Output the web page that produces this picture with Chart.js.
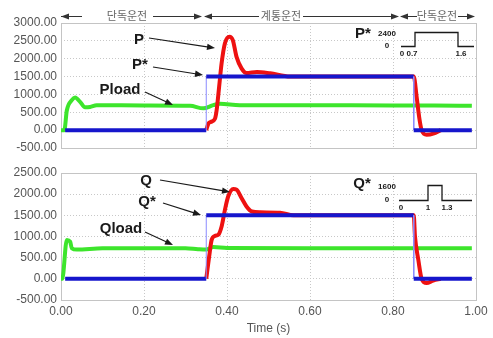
<!DOCTYPE html>
<html>
<head>
<meta charset="utf-8">
<script src="https://cdn.jsdelivr.net/npm/chart.js@4/dist/chart.umd.min.js"></script>
<style>
  body { margin: 0; background: #fff; }
  #wrap { position: relative; width: 493px; height: 338px; }
  canvas { position: absolute; left: 0; }
  #graficoP { top: 0; }
  #graficoQ { top: 160px; }
</style>
</head>
<body>
<div id="wrap">
  <canvas id="graficoP" width="493" height="160"></canvas>
  <canvas id="graficoQ" width="493" height="178"></canvas>
</div>
<script>
// Dados (tempo em s)
const xTicks = [0, 0.2, 0.4, 0.6, 0.8, 1.0];

const refTime = [0.01, 0.35, 0.35, 0.85, 0.85, 0.99];
const pRef = [0, 0, 1500, 1500, 0, 0];
const qRef = [0, 0, 1500, 1500, 0, 0];

const pTime = [0.35, 0.355, 0.361, 0.371, 0.375, 0.381, 0.387, 0.395, 0.406, 0.414, 0.423, 0.435, 0.447, 0.472, 0.504, 0.552, 0.85, 0.857, 0.863, 0.869, 0.881, 0.897, 0.915];
const pValue = [0, 180, 230, 320, 555, 1210, 1870, 2430, 2615, 2520, 2050, 1730, 1600, 1630, 1590, 1500, 1500, 930, 370, 0, -130, -100, 0];

const qTime = [0.35, 0.357, 0.363, 0.371, 0.379, 0.387, 0.395, 0.403, 0.415, 0.423, 0.435, 0.447, 0.46, 0.48, 0.528, 0.56, 0.85, 0.853, 0.861, 0.869, 0.881, 0.897, 0.915];
const qValue = [0, 525, 920, 1015, 1040, 1237, 1630, 1950, 2125, 2107, 1910, 1710, 1590, 1570, 1560, 1500, 1500, 1000, 450, 0, -100, -40, 0];

const pLoadTime = [0, 0.008, 0.014, 0.026, 0.034, 0.046, 0.058, 0.07, 0.086, 0.2, 0.311, 0.343, 0.367, 0.383, 0.431, 0.6, 0.8, 0.9, 0.99];
const pLoad = [0, 0, 550, 840, 915, 790, 640, 650, 700, 690, 680, 610, 700, 740, 700, 700, 690, 690, 680];

const qLoadTime = [0, 0.003, 0.014, 0.022, 0.026, 0.038, 0.1, 0.3, 0.33, 0.35, 0.367, 0.4, 0.6, 0.99];
const qLoad = [0, 0, 920, 880, 725, 690, 725, 725, 700, 690, 750, 730, 725, 725];

const pTicks = [-500, 3000];
const qTicks = [-500, 2500];

function pontos(xs, ys) {
    return xs.map((x, i) => ({ x: x, y: ys[i] }));
}

// setas
function seta(ctx, x1, y1, x2, y2, tam) {
    const a = Math.atan2(y2 - y1, x2 - x1);
    ctx.beginPath();
    ctx.moveTo(x1, y1);
    ctx.lineTo(x2 - Math.cos(a) * tam * 0.8, y2 - Math.sin(a) * tam * 0.8);
    ctx.stroke();
    ctx.beginPath();
    ctx.moveTo(x2, y2);
    ctx.lineTo(x2 - tam * Math.cos(a) + tam * 0.4 * Math.sin(a), y2 - tam * Math.sin(a) - tam * 0.4 * Math.cos(a));
    ctx.lineTo(x2 - tam * Math.cos(a) - tam * 0.4 * Math.sin(a), y2 - tam * Math.sin(a) + tam * 0.4 * Math.cos(a));
    ctx.closePath();
    ctx.fill();
}

function pontaSo(ctx, x, y, dir) {
    ctx.beginPath();
    ctx.moveTo(x, y);
    ctx.lineTo(x - dir * 8, y - 3);
    ctx.lineTo(x - dir * 8, y + 3);
    ctx.closePath();
    ctx.fill();
}

const molduraPlugin = {
    id: "moldura",
    beforeDatasetsDraw(chart) {
        const a = chart.chartArea;
        const ctx = chart.ctx;
        ctx.save();
        ctx.strokeStyle = "#c4c4c4";
        ctx.lineWidth = 1;
        ctx.strokeRect(a.left + 0.5, a.top + 0.5, a.right - a.left, a.bottom - a.top);
        ctx.restore();
    }
};

function desenharRotulos(ctx, rotulos) {
    ctx.save();
    ctx.fillStyle = "#1a1a1a";
    ctx.strokeStyle = "#1a1a1a";
    ctx.lineWidth = 1.2;
    ctx.font = "bold 15px 'Liberation Sans', Arial, sans-serif";
    ctx.textAlign = "center";
    ctx.textBaseline = "middle";
    rotulos.forEach(r => {
        ctx.fillText(r.texto, r.x, r.y);
        seta(ctx, r.x1, r.y1, r.x2, r.y2, 8);
    });
    ctx.restore();
}

function desenharInset(ctx, nome, alto, pos, lowY, highY, rot) {
    ctx.save();
    ctx.fillStyle = "#1a1a1a";
    ctx.strokeStyle = "#1a1a1a";
    ctx.textBaseline = "middle";
    ctx.textAlign = "center";
    ctx.font = "bold 15px 'Liberation Sans', Arial, sans-serif";
    ctx.fillText(nome, pos.nx, pos.ny);
    ctx.font = "bold 8px 'Liberation Sans', Arial, sans-serif";
    ctx.fillText(alto, 387, highY + 1);
    ctx.fillText("0", 387, lowY - 1);
    ctx.lineWidth = 1.3;
    ctx.beginPath();
    ctx.moveTo(pos.x0, lowY);
    ctx.lineTo(pos.x1, lowY);
    ctx.lineTo(pos.x1, highY);
    ctx.lineTo(pos.x2, highY);
    ctx.lineTo(pos.x2, lowY);
    ctx.lineTo(pos.x3, lowY);
    ctx.stroke();
    rot.forEach(r => ctx.fillText(r[0], r[1], lowY + 7));
    ctx.restore();
}

const anotacoesP = {
    id: "anotacoesP",
    afterDraw(chart) {
        const ctx = chart.ctx;
        ctx.save();
        // faixas de operação no topo
        ctx.strokeStyle = "#333";
        ctx.fillStyle = "#333";
        ctx.lineWidth = 1;
        const y = 16.5;
        ctx.beginPath();
        ctx.moveTo(61, y); ctx.lineTo(82, y);
        ctx.moveTo(153, y); ctx.lineTo(200, y);
        ctx.moveTo(205, y); ctx.lineTo(259, y);
        ctx.moveTo(303, y); ctx.lineTo(396, y);
        ctx.moveTo(401, y); ctx.lineTo(417, y);
        ctx.moveTo(458, y); ctx.lineTo(472, y);
        ctx.stroke();
        pontaSo(ctx, 61, y, -1);
        pontaSo(ctx, 202, y, 1);
        pontaSo(ctx, 204, y, -1);
        pontaSo(ctx, 399, y, 1);
        pontaSo(ctx, 400, y, -1);
        pontaSo(ctx, 475, y, 1);
        ctx.fillStyle = "#666";
        ctx.font = "11px 'Noto Sans CJK KR', sans-serif";
        ctx.textAlign = "center";
        ctx.textBaseline = "middle";
        ctx.fillText("단독운전", 127, y - 1);
        ctx.fillText("계통운전", 281, y - 1);
        ctx.fillText("단독운전", 437, y - 1);
        ctx.restore();

        desenharRotulos(ctx, [
            { texto: "P", x: 139, y: 40, x1: 149, y1: 38, x2: 215, y2: 48 },
            { texto: "P*", x: 140, y: 65, x1: 153, y1: 67, x2: 203, y2: 75 },
            { texto: "Pload", x: 120, y: 90, x1: 145, y1: 92, x2: 173, y2: 105 }
        ]);
        desenharInset(ctx, "P*", "2400", { nx: 363, ny: 34, x0: 401, x1: 415, x2: 458, x3: 474 }, 46.5, 32.5,
            [["0", 402], ["0.7", 412], ["1.6", 461]]);
    }
};

const anotacoesQ = {
    id: "anotacoesQ",
    afterDraw(chart) {
        const ctx = chart.ctx;
        desenharRotulos(ctx, [
            { texto: "Q", x: 146, y: 21, x1: 160, y1: 20, x2: 230, y2: 32 },
            { texto: "Q*", x: 147, y: 42, x1: 163, y1: 43, x2: 201, y2: 55 },
            { texto: "Qload", x: 121, y: 69, x1: 145, y1: 72, x2: 173, y2: 85 }
        ]);
        desenharInset(ctx, "Q*", "1600", { nx: 362, ny: 24, x0: 399, x1: 428, x2: 442, x3: 472 }, 40.5, 25.5,
            [["0", 401], ["1", 428], ["1.3", 447]]);
    }
};

function criarGrafico(id, ref, saida, carga, cargaTempo, saidaTempo, limites, mostrarX, padding, plugins) {
    const ctx = document.getElementById(id).getContext("2d");
    const fonte = { family: "'Liberation Sans', Arial, sans-serif", size: 12 };
    return new Chart(ctx, {
        type: "line",
        data: {
            datasets: [
                {
                    data: pontos(refTime, ref),
                    borderColor: "#1616cc",
                    borderWidth: 4,
                    segment: {
                        borderWidth: c => c.p0.parsed.x === c.p1.parsed.x ? 1 : 4,
                        borderColor: c => c.p0.parsed.x === c.p1.parsed.x ? "#8a8aff" : "#1616cc"
                    }
                },
                {
                    data: pontos(saidaTempo, saida),
                    borderColor: "#ee1111",
                    borderWidth: 4,
                    cubicInterpolationMode: "monotone"
                },
                {
                    data: pontos(cargaTempo, carga),
                    borderColor: "#3de52c",
                    borderWidth: 4,
                    cubicInterpolationMode: "monotone"
                }
            ]
        },
        options: {
            responsive: false,
            animation: false,
            devicePixelRatio: 1,
            layout: { padding: padding },
            elements: { point: { radius: 0 }, line: { borderCapStyle: "butt" } },
            plugins: { legend: { display: false }, tooltip: { enabled: false } },
            scales: {
                x: {
                    type: "linear",
                    min: xTicks[0],
                    max: xTicks[xTicks.length - 1],
                    afterBuildTicks: s => { s.ticks = xTicks.map(v => ({ value: v })); },
                    afterFit: s => { s.height = mostrarX ? 38 : 0; },
                    grid: { color: "#c8c8c8", drawTicks: false },
                    border: { display: false, dash: [1, 2] },
                    ticks: {
                        display: mostrarX,
                        padding: 4,
                        color: "#555",
                        font: fonte,
                        callback: v => v.toFixed(2)
                    },
                    title: {
                        display: mostrarX,
                        text: "Time (s)",
                        color: "#555",
                        font: fonte,
                        padding: { top: 0, bottom: 2 }
                    }
                },
                y: {
                    min: limites[0],
                    max: limites[1],
                    afterFit: s => { s.width = 61; },
                    grid: { color: "#c8c8c8", drawTicks: false },
                    border: { display: false, dash: [1, 2] },
                    ticks: {
                        stepSize: 500,
                        padding: 4,
                        color: "#555",
                        font: fonte,
                        callback: v => v.toFixed(2)
                    }
                }
            }
        },
        plugins: [molduraPlugin].concat(plugins)
    });
}

document.addEventListener("DOMContentLoaded", () => {
    criarGrafico("graficoP", pRef, pValue, pLoad, pLoadTime, pTime, pTicks, false,
        { top: 23, right: 17, bottom: 12, left: 0 }, [anotacoesP]);
    criarGrafico("graficoQ", qRef, qValue, qLoad, qLoadTime, qTime, qTicks, true,
        { top: 13, right: 17, bottom: 0, left: 0 }, [anotacoesQ]);
});
</script>
</body>
</html>
